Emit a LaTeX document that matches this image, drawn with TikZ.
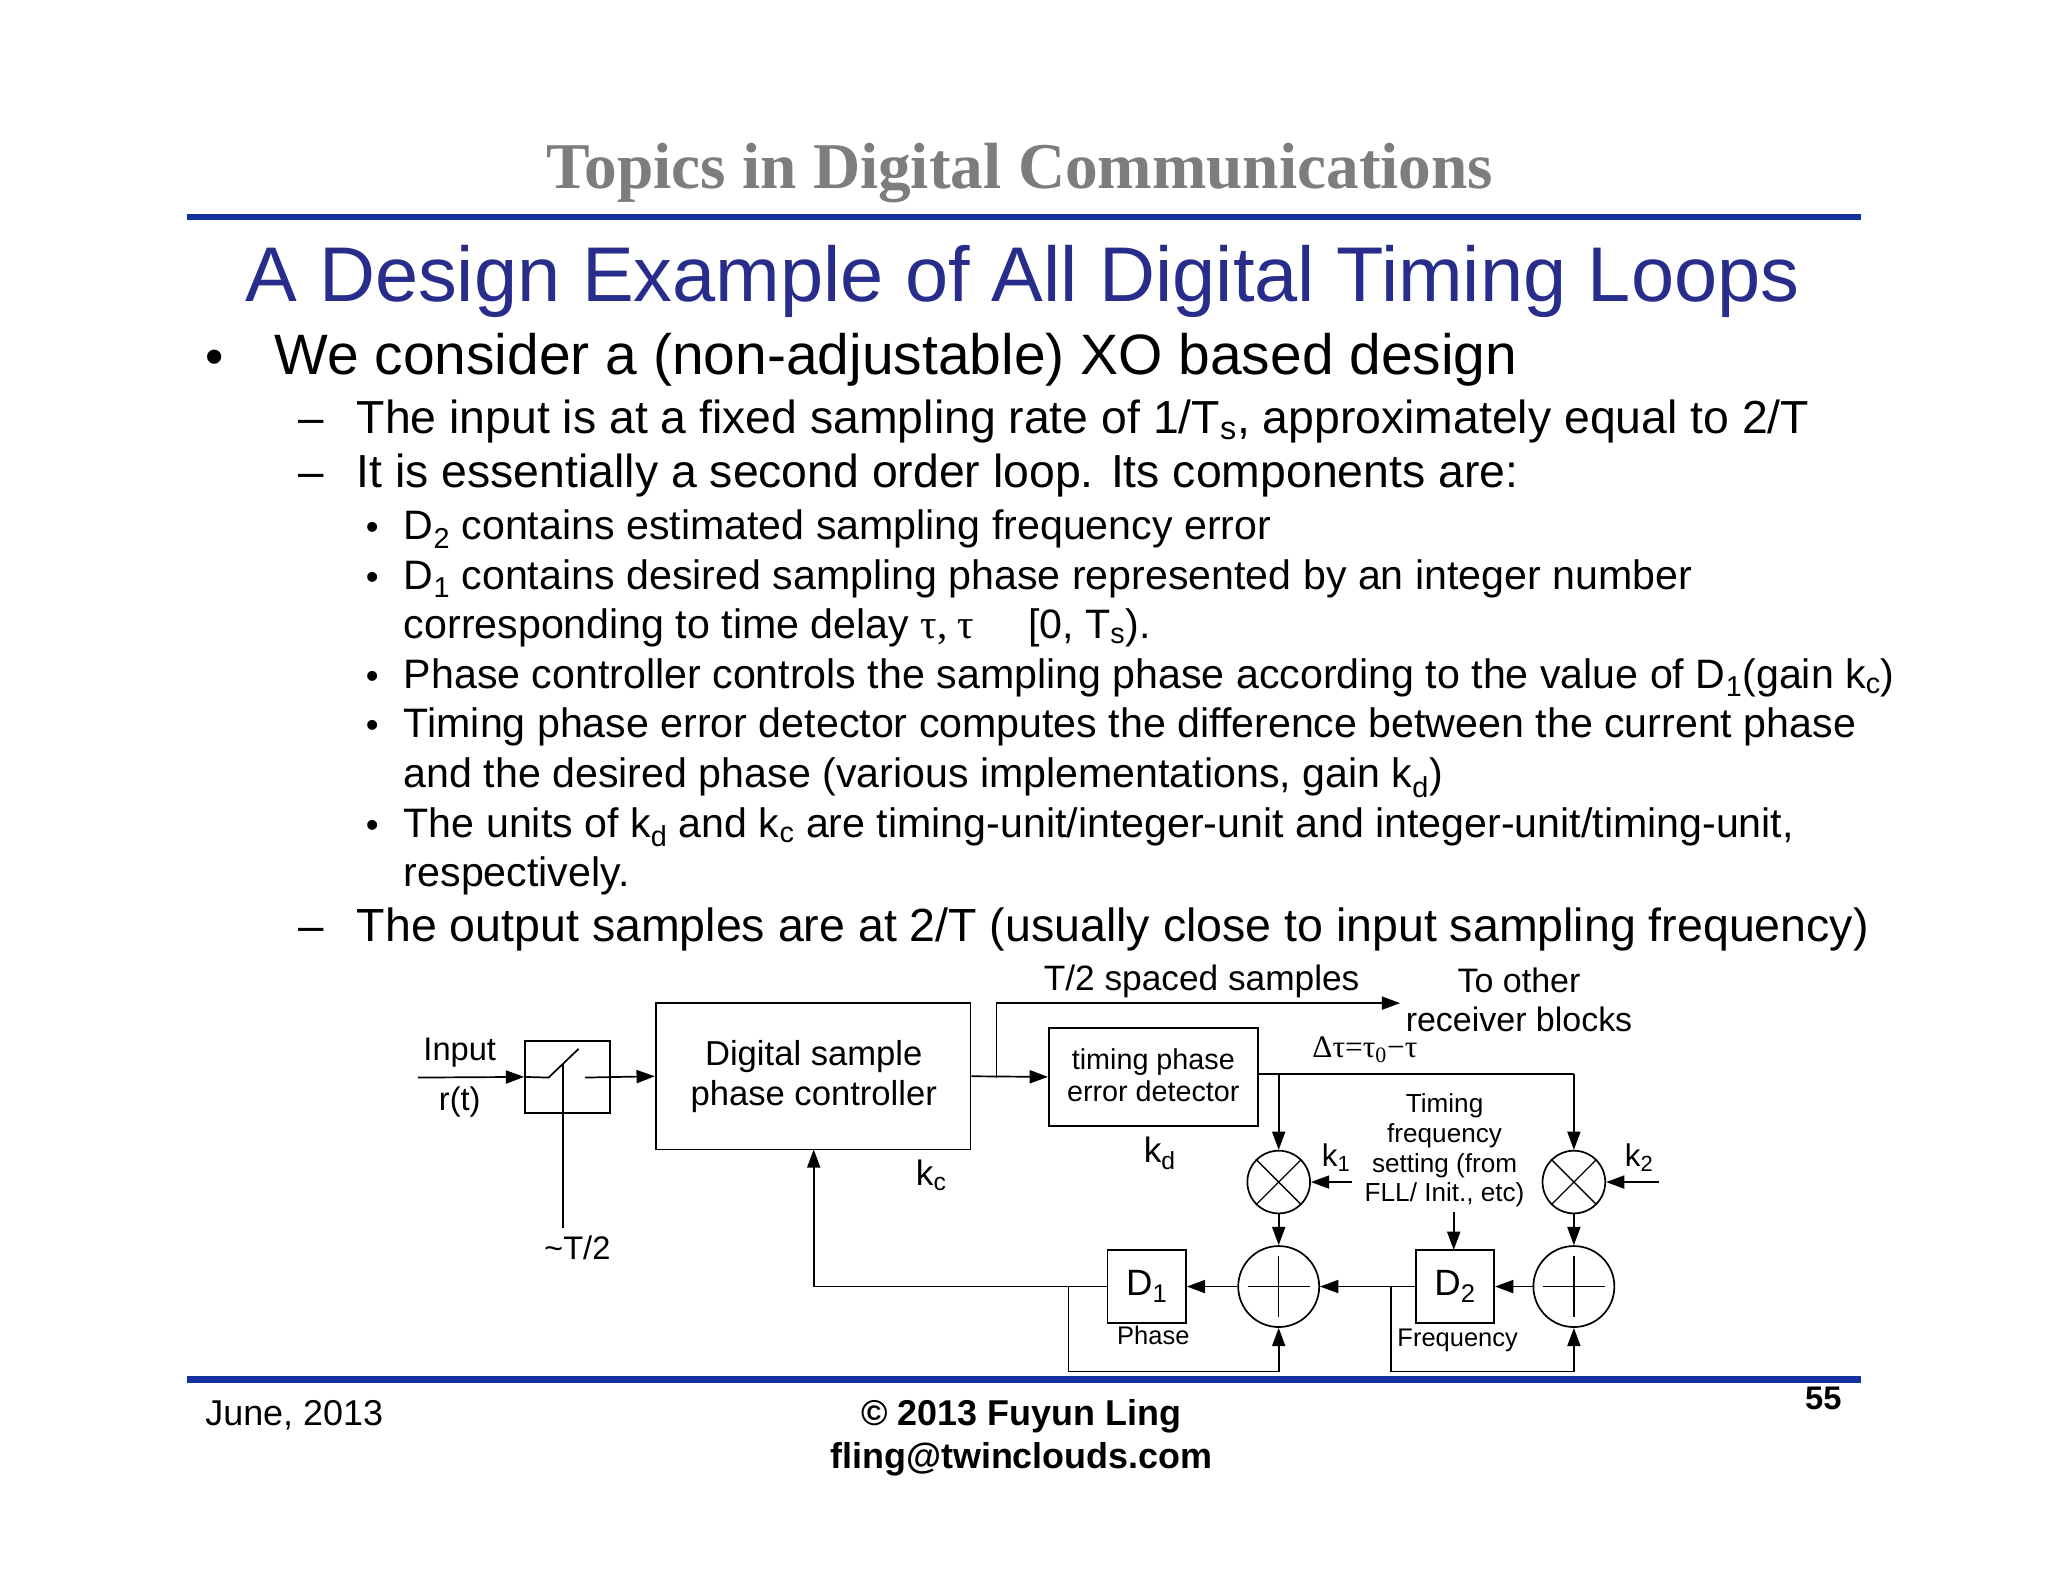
\documentclass[tikz,border=0pt]{standalone}
\usepackage{fontspec}
\setmainfont{Liberation Sans}
\newfontfamily\serifx{Liberation Serif}
\usetikzlibrary{arrows.meta,calc}
\definecolor{hblue}{RGB}{40,45,140}
\definecolor{lblue}{RGB}{20,50,160}
\definecolor{tgray}{RGB}{125,125,125}
\newcommand{\fs}[1]{\fontsize{#1}{#1}\selectfont}
\newcommand{\sbs}[1]{\textsubscript{#1}}
\begin{document}
\begin{tikzpicture}[x=1pt,y=-1pt,
  blk/.style={draw,line width=1.3pt,inner sep=0pt},
  ln/.style={line width=1.3pt},
  arr/.style={line width=1.3pt,-{Triangle[length=14pt,width=10pt]}},
  lbl/.style={inner sep=0pt,anchor=base},
  txt/.style={inner sep=0pt,anchor=base west},
  crc/.style={draw,line width=1.3pt,circle,inner sep=0pt}]
\fill[white] (0,0) rectangle (1568,1211);
\useasboundingbox (0,0) rectangle (1568,1211);
% header
\node[lbl,text=tgray] (top) at (781,144) {\serifx\fs{50}\bfseries Topics in Digital Communications};
\draw[lblue,line width=5pt] (143,166) -- (1425,166);
\node[lbl,text=hblue] (head) at (783,231) {\fs{59.4}A Design Example of All Digital Timing Loops};
% bullets
\node[txt] (b0) at (157,287) {\fs{40}•};
\node[txt] (t0) at (210,287) {\fs{43.6}We consider a (non-adjustable) XO based design};
\node[txt] (d1) at (228,332) {\fs{35}–};
\node[txt] (t1) at (273,332) {\fs{35.5}The input is at a fixed sampling rate of 1/T\sbs{s}, approximately equal to 2/T};
\node[txt] (d2) at (228,373) {\fs{35}–};
\node[txt] (t2) at (273,373) {\fs{35.5}It is essentially a second order loop. Its components are:};
\foreach \y/\s in {413/a,451/b,527/c,565/d,641/e}{\node[txt] (sb\s) at (280,\y) {\fs{28}•};}
\node[txt] (s1) at (309,413) {\fs{31.5}D\sbs{2} contains estimated sampling frequency error};
\node[txt] (s2) at (309,451) {\fs{31.5}D\sbs{1} contains desired sampling phase represented by an integer number};
\node[txt] (s2b) at (309,489) {\fs{31.5}corresponding to time delay {\serifx τ, τ ∈} [0, T\sbs{s}).};
\node[txt] (s3) at (309,527) {\fs{31.5}Phase controller controls the sampling phase according to the value of D\sbs{1}(gain k\sbs{c})};
\node[txt] (s4) at (309,565) {\fs{31.5}Timing phase error detector computes the difference between the current phase};
\node[txt] (s4b) at (309,603) {\fs{31.5}and the desired phase (various implementations, gain k\sbs{d})};
\node[txt] (s5) at (309,641) {\fs{31.5}The units of k\sbs{d} and k\sbs{c} are timing-unit/integer-unit and integer-unit/timing-unit,};
\node[txt] (s5b) at (309,679) {\fs{31.5}respectively.};
\node[txt] (d3) at (228,721) {\fs{35}–};
\node[txt] (t3) at (273,721) {\fs{35.6}The output samples are at 2/T (usually close to input sampling frequency)};
% diagram
\coordinate (in) at (320,825);
\node[blk,minimum width=65pt,minimum height=55pt] (sw) at (434.5,824.5) {};
\node[blk,minimum width=241pt,minimum height=112pt] (dspc) at (622.5,824) {};
\node[lbl] at (623,816) {\fs{26.5}Digital sample};
\node[lbl] at (623,846) {\fs{26.5}phase controller};
\node[blk,minimum width=160pt,minimum height=75pt] (tped) at (883,824.5) {};
\node[lbl] at (883,819) {\fs{22}timing phase};
\node[lbl] at (883,843) {\fs{22}error detector};
\draw[arr] (in) -- (sw.west);
\draw[ln] (sw.west) -- (420,825) -- (443,803);
\draw[ln] (431,814) -- (431,940);
\draw[arr] (448,825) -- (dspc.west);
\node[lbl] at (352,812) {\fs{25}Input};
\node[lbl] at (352,850) {\fs{25}r(t)};
\node[lbl] at (442,964) {\fs{25}\textasciitilde T/2};
\node[lbl] at (713,908) {\fs{27}k\sbs{c}};
\node[lbl] at (888,890) {\fs{27}k\sbs{d}};
\draw[arr] (dspc.east) -- (tped.west);
\coordinate (to) at (1072,768);
\draw[arr] (763,825) -- (763,768) -- (to);
\node[lbl] at (920,758) {\fs{27}T/2 spaced samples};
\node[lbl] at (1163,760) {\fs{26}To other};
\node[lbl] at (1163,790) {\fs{26}receiver blocks};
\node[lbl] at (1045,810) {\serifx\fs{24}Δτ=τ\sbs{0}−τ};
% multipliers, adders
\node[crc,minimum size=48pt] (m1) at (979,905) {};
\node[crc,minimum size=48pt] (m2) at (1205,905) {};
\draw[line width=1pt] (m1.north west) -- (m1.south east) (m1.north east) -- (m1.south west);
\draw[line width=1pt] (m2.north west) -- (m2.south east) (m2.north east) -- (m2.south west);
\node[crc,minimum size=62pt] (a1) at (979,985) {};
\node[crc,minimum size=62pt] (a2) at (1205,985) {};
\draw[line width=1pt] ($(a1.north)+(0,8)$) -- ($(a1.south)+(0,-8)$) ($(a1.west)+(8,0)$) -- ($(a1.east)+(-8,0)$);
\draw[line width=1pt] ($(a2.north)+(0,8)$) -- ($(a2.south)+(0,-8)$) ($(a2.west)+(8,0)$) -- ($(a2.east)+(-8,0)$);
\node[blk,minimum width=60pt,minimum height=56pt] (d1b) at (878,985) {\fs{28}D\sbs{1}};
\node[blk,minimum width=60pt,minimum height=56pt] (d2b) at (1114,985) {\fs{28}D\sbs{2}};
\node[lbl] at (883,1029) {\fs{19.5}Phase};
\node[lbl] at (1116,1031) {\fs{19.5}Frequency};
\draw[ln] (963,822) -- (1205,822);
\draw[arr] (1205,822) -- (m2.north);
\draw[arr] (979,822) -- (m1.north);
\coordinate (k1s) at (1035,905);
\coordinate (k2s) at (1270,905);
\draw[arr] (k1s) -- (m1.east);
\draw[arr] (k2s) -- (m2.east);
\node[lbl] at (1023,893) {\fs{24}k\sbs{1}};
\node[lbl] at (1255,893) {\fs{24}k\sbs{2}};
\draw[arr] (m1.south) -- (a1.north);
\draw[arr] (m2.south) -- (a2.north);
\draw[arr] (a2.west) -- (d2b.east);
\draw[arr] (d2b.west) -- (a1.east);
\draw[arr] (a1.west) -- (d1b.east);
\draw[arr] (d1b.west) -- (623,985) -- (623,880);
\draw[arr] (818,985) -- (818,1050) -- (979,1050) -- (a1.south);
\draw[arr] (1065,985) -- (1065,1050) -- (1205,1050) -- (a2.south);
\node[lbl] at (1106,852) {\fs{20}Timing};
\node[lbl] at (1106,875) {\fs{20}frequency};
\node[lbl] at (1106,898) {\fs{20}setting (from};
\node[lbl] at (1106,920) {\fs{20}FLL/ Init., etc)};
\coordinate (tf) at (1113,928);
\draw[arr] (tf) -- (1113,957);
% footer
\draw[lblue,line width=5pt] (143,1056) -- (1425,1056);
\node[txt] (date) at (157,1091) {\fs{27.5}June, 2013};
\node[lbl] (cp) at (782,1091) {\fs{27.5}\bfseries © 2013 Fuyun Ling};
\node[lbl] (em) at (782,1124) {\fs{27.5}\bfseries fling@twinclouds.com};
\node[lbl] (pg) at (1396,1079) {\fs{25}\bfseries 55};
\end{tikzpicture}
\end{document}
